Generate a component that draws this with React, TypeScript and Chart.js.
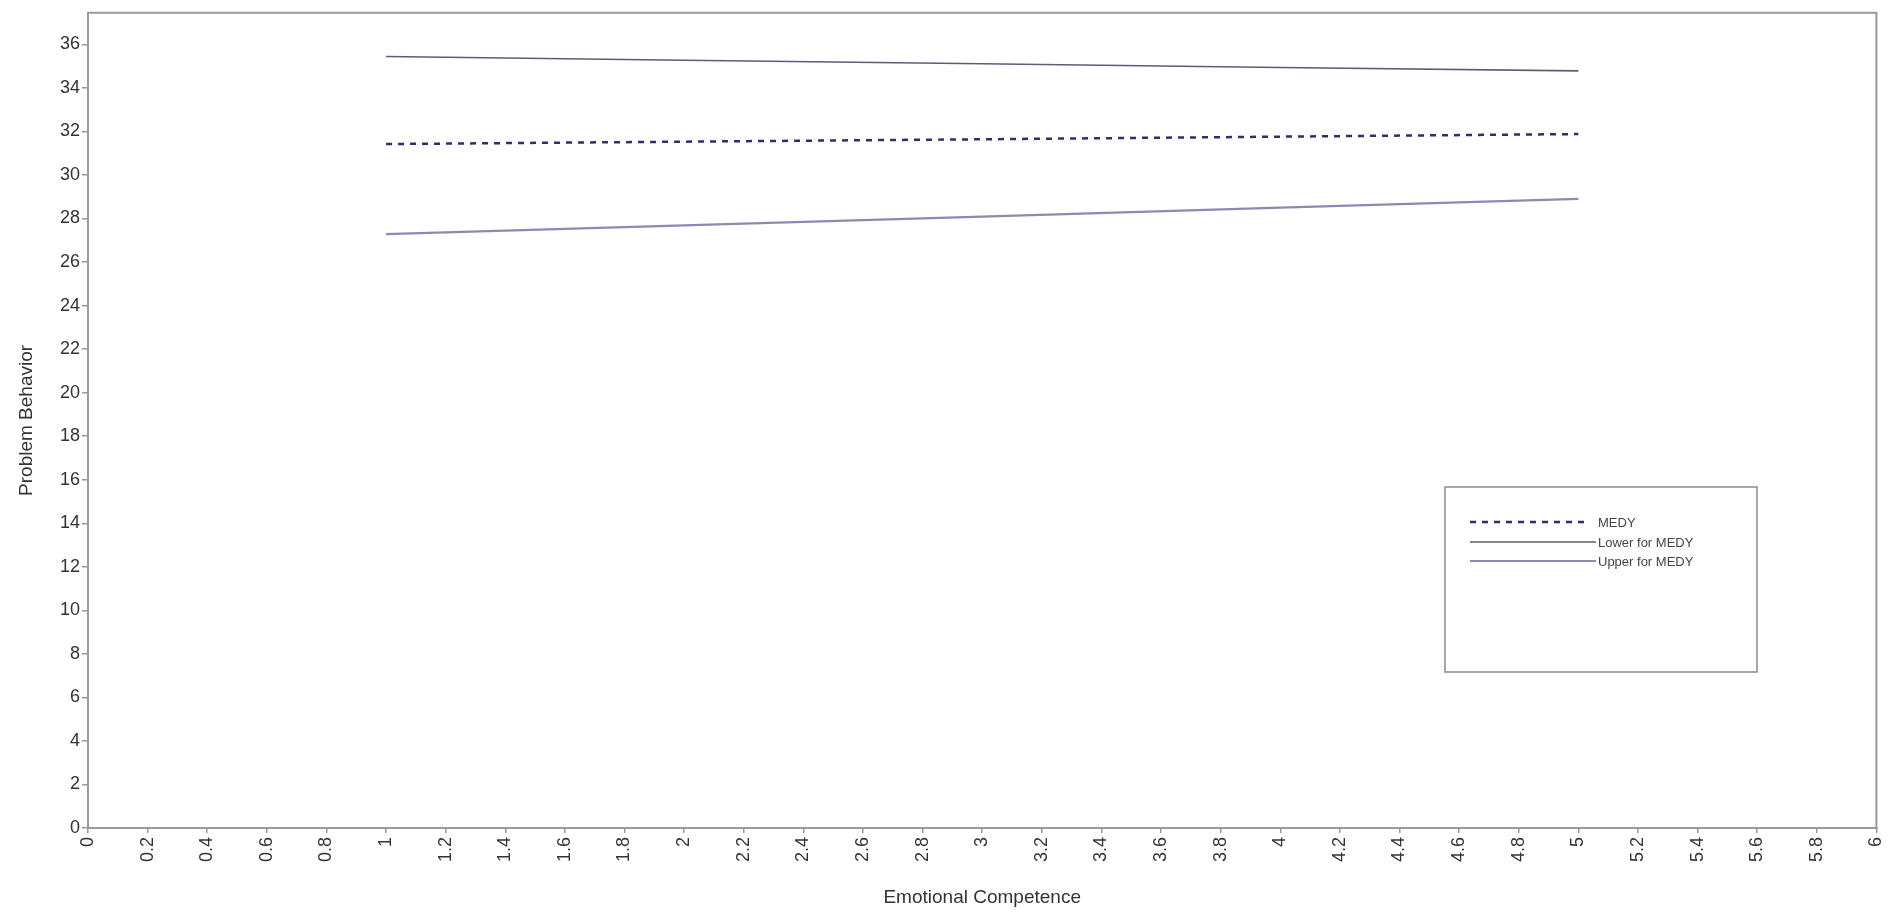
import React, { useEffect, useRef } from "react";
import { Chart, registerables } from "chart.js";

Chart.register(...registerables);

// ---- data ----
const xValues = [1, 2, 3, 4, 5];
const medy = [31.42, 31.53, 31.64, 31.76, 31.88];
const lowerForMedy = [35.44, 35.27, 35.11, 34.94, 34.78];
const upperForMedy = [27.28, 27.68, 28.09, 28.5, 28.9];

const seriesNames = ["MEDY", "Lower for MEDY", "Upper for MEDY"];

const xTickValues = [
  0, 0.2, 0.4, 0.6, 0.8, 1, 1.2, 1.4, 1.6, 1.8, 2, 2.2, 2.4, 2.6, 2.8, 3, 3.2, 3.4, 3.6, 3.8, 4,
  4.2, 4.4, 4.6, 4.8, 5, 5.2, 5.4, 5.6, 5.8, 6,
];
const yTickValues = [0, 2, 4, 6, 8, 10, 12, 14, 16, 18, 20, 22, 24, 26, 28, 30, 32, 34, 36];

const xTitle = "Emotional Competence";
const yTitle = "Problem Behavior";

const FONT = "'Liberation Sans', Arial, sans-serif";

const legendBoxPlugin = {
  id: "legendBoxPlugin",
  afterDraw(chart: any) {
    const ctx = chart.ctx;
    const { left, top, right, bottom } = chart.chartArea;
    ctx.save();
    // frame around plot
    ctx.strokeStyle = "#9a9a9a";
    ctx.lineWidth = 2;
    ctx.strokeRect(left, top, right - left, bottom - top);

    // legend box
    const bx = 1445, by = 487, bw = 312, bh = 185;
    ctx.strokeStyle = "#8a8a8a";
    ctx.lineWidth = 1.5;
    ctx.strokeRect(bx, by, bw, bh);

    const rows = [522, 542, 561];
    chart.data.datasets.forEach((ds: any, i: number) => {
      const y = rows[i];
      ctx.beginPath();
      ctx.strokeStyle = ds.borderColor;
      ctx.lineWidth = ds.borderWidth;
      ctx.setLineDash(ds.borderDash || []);
      ctx.moveTo(1470, y);
      ctx.lineTo(i === 0 ? 1588 : 1596, y);
      ctx.stroke();
      ctx.setLineDash([]);
      ctx.fillStyle = "#444";
      ctx.font = `13px ${FONT}`;
      ctx.textAlign = "left";
      ctx.textBaseline = "middle";
      ctx.fillText(ds.label, 1598, y + 1);
    });
    ctx.restore();
  },
};

export default function App() {
  const ref = useRef<HTMLCanvasElement | null>(null);

  useEffect(() => {
    if (!ref.current) return;
    const chart = new Chart(ref.current, {
      type: "line",
      data: {
        datasets: [
          {
            label: seriesNames[0],
            data: xValues.map((x, i) => ({ x, y: medy[i] })),
            borderColor: "#2e2e6e",
            borderWidth: 2.5,
            borderDash: [6, 6],
            pointRadius: 0,
            tension: 0,
          },
          {
            label: seriesNames[1],
            data: xValues.map((x, i) => ({ x, y: lowerForMedy[i] })),
            borderColor: "#5c5c78",
            borderWidth: 1.6,
            pointRadius: 0,
            tension: 0,
          },
          {
            label: seriesNames[2],
            data: xValues.map((x, i) => ({ x, y: upperForMedy[i] })),
            borderColor: "#8a8ab2",
            borderWidth: 2.2,
            pointRadius: 0,
            tension: 0,
          },
        ],
      },
      options: {
        animation: false,
        responsive: false,
        layout: { padding: { left: 0, top: 10, right: 15, bottom: 0 } },
        plugins: {
          legend: { display: false },
          tooltip: { enabled: false },
        },
        scales: {
          x: {
            type: "linear",
            min: 0,
            max: 6,
            afterBuildTicks: (s: any) => {
              s.ticks = xTickValues.map((v) => ({ value: v }));
            },
            afterFit: (s: any) => {
              s.height = 91;
            },
            ticks: {
              autoSkip: false,
              minRotation: 90,
              maxRotation: 90,
              padding: 4,
              color: "#333",
              font: { family: FONT, size: 18 },
              callback: (v: any) => String(v),
            },
            grid: {
              drawOnChartArea: false,
              drawTicks: true,
              tickLength: 5,
              color: "#999",
              lineWidth: 1.5,
            },
            border: { color: "#9a9a9a", width: 2 },
            title: {
              display: true,
              text: xTitle,
              color: "#333",
              font: { family: FONT, size: 19 },
              padding: { top: 0, bottom: 10 },
            },
          },
          y: {
            type: "linear",
            min: 0,
            max: 37.45,
            afterBuildTicks: (s: any) => {
              s.ticks = yTickValues.map((v) => ({ value: v }));
            },
            afterFit: (s: any) => {
              s.width = 88;
            },
            ticks: {
              padding: 2,
              color: "#333",
              font: { family: FONT, size: 18 },
              callback: (v: any) => String(v),
            },
            grid: {
              drawOnChartArea: false,
              drawTicks: true,
              tickLength: 6,
              color: "#999",
              lineWidth: 1.5,
            },
            border: { color: "#9a9a9a", width: 2 },
            title: {
              display: true,
              text: yTitle,
              color: "#333",
              font: { family: FONT, size: 19 },
              padding: { top: 15, bottom: 0 },
            },
          },
        },
      },
      plugins: [legendBoxPlugin],
    });
    return () => chart.destroy();
  }, []);

  return (
    <div style={{ position: "absolute", left: 0, top: 0, width: 1902, height: 919, background: "#fff" }}>
      <canvas ref={ref} width={1902} height={919} style={{ display: "block" }} />
    </div>
  );
}
